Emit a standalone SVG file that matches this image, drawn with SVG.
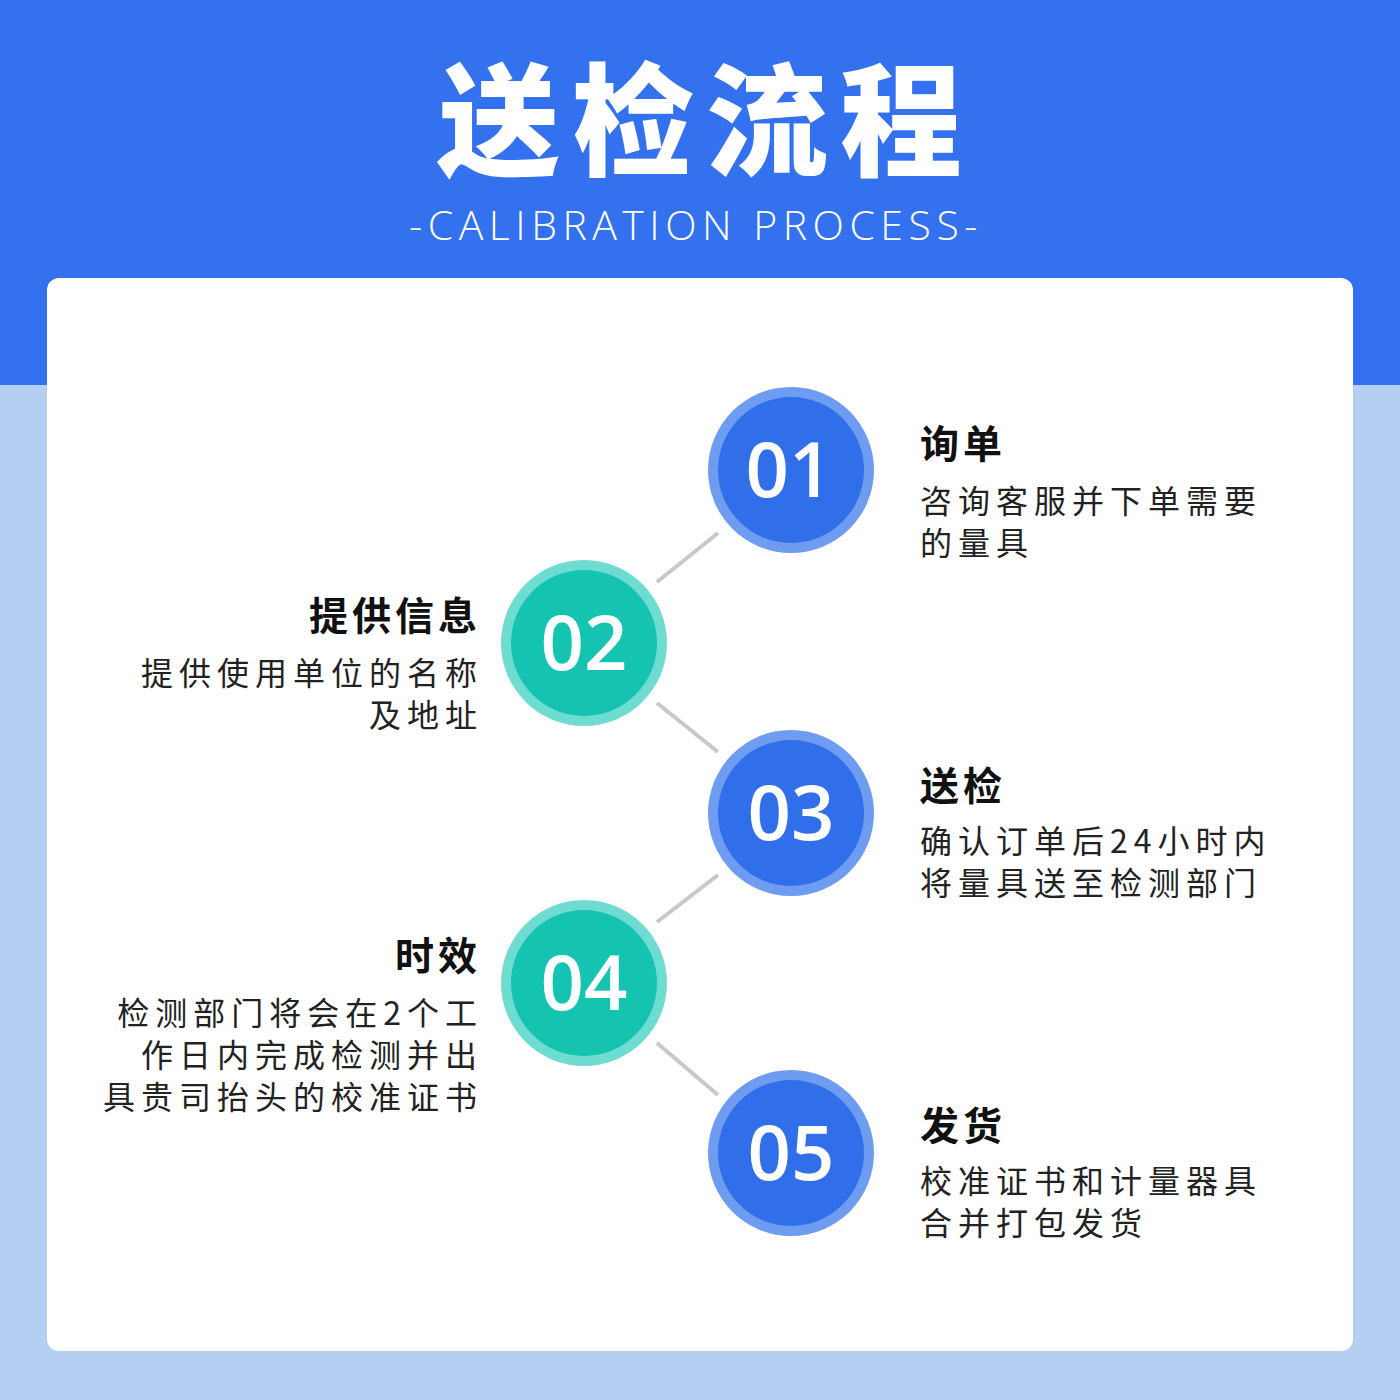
<svg xmlns="http://www.w3.org/2000/svg" width="1400" height="1400" viewBox="0 0 1400 1400">
<style>
.title{font-family:"Noto Sans CJK SC","Noto Sans",sans-serif;font-weight:900;font-size:122px;fill:#fff;letter-spacing:12px}
.sub{font-family:"Open Sans","Noto Sans",sans-serif;font-weight:300;font-size:41px;fill:#fff;letter-spacing:5.5px}
.head{font-family:"Noto Sans CJK SC",sans-serif;font-weight:700;font-size:39px;fill:#111;letter-spacing:4px}
.body{font-family:"Noto Sans CJK SC",sans-serif;font-size:32px;fill:#222;letter-spacing:6px}
.num{font-family:"Open Sans","Noto Sans",sans-serif;font-weight:600;font-size:76px;fill:#fff;text-anchor:middle}
.ringB{fill:#6E9CF0}.inB{fill:#306FE9}
.ringT{fill:#6FDCD1}.inT{fill:#14C4B0}
.conn line{stroke:#C8C8C8;stroke-width:4}
</style>
<rect x="0" y="0" width="1400" height="385" fill="#3371EE"/>
<rect x="0" y="385" width="1400" height="1015" fill="#B5CFF2"/>
<rect x="47" y="278" width="1306" height="1073" rx="12" fill="#fff"/>
<text class="title" x="706" y="166" text-anchor="middle">送检流程</text>
<text class="sub" x="696" y="240" text-anchor="middle">-CALIBRATION PROCESS-</text>
<g class="conn">
<line x1="657" y1="582" x2="718" y2="533"/>
<line x1="657" y1="703" x2="718" y2="752"/>
<line x1="657" y1="922" x2="718" y2="875"/>
<line x1="657" y1="1043" x2="718" y2="1095"/>
</g>
<g id="step1">
<circle class="ringB" cx="791" cy="470" r="83"/><circle class="inB" cx="791" cy="470" r="73"/>
<text class="num" x="789" y="497">01</text>
<text class="head" x="920" y="458">询单</text>
<text class="body" x="920" y="513">咨询客服并下单需要</text>
<text class="body" x="920" y="555">的量具</text>
</g>
<g id="step2">
<circle class="ringT" cx="584" cy="643" r="83"/><circle class="inT" cx="584" cy="643" r="73"/>
<text class="num" x="584" y="670">02</text>
<text class="head" x="481" y="630" text-anchor="end">提供信息</text>
<text class="body" x="483" y="685" text-anchor="end">提供使用单位的名称</text>
<text class="body" x="483" y="727" text-anchor="end">及地址</text>
</g>
<g id="step3">
<circle class="ringB" cx="791" cy="813" r="83"/><circle class="inB" cx="791" cy="813" r="73"/>
<text class="num" x="791" y="840">03</text>
<text class="head" x="920" y="800">送检</text>
<text class="body" x="920" y="853">确认订单后24小时内</text>
<text class="body" x="920" y="895">将量具送至检测部门</text>
</g>
<g id="step4">
<circle class="ringT" cx="584" cy="983" r="83"/><circle class="inT" cx="584" cy="983" r="73"/>
<text class="num" x="584" y="1010">04</text>
<text class="head" x="481" y="970" text-anchor="end">时效</text>
<text class="body" x="483" y="1025" text-anchor="end">检测部门将会在2个工</text>
<text class="body" x="483" y="1067" text-anchor="end">作日内完成检测并出</text>
<text class="body" x="483" y="1109" text-anchor="end">具贵司抬头的校准证书</text>
</g>
<g id="step5">
<circle class="ringB" cx="791" cy="1153" r="83"/><circle class="inB" cx="791" cy="1153" r="73"/>
<text class="num" x="791" y="1180">05</text>
<text class="head" x="920" y="1140">发货</text>
<text class="body" x="920" y="1193">校准证书和计量器具</text>
<text class="body" x="920" y="1235">合并打包发货</text>
</g>
</svg>
